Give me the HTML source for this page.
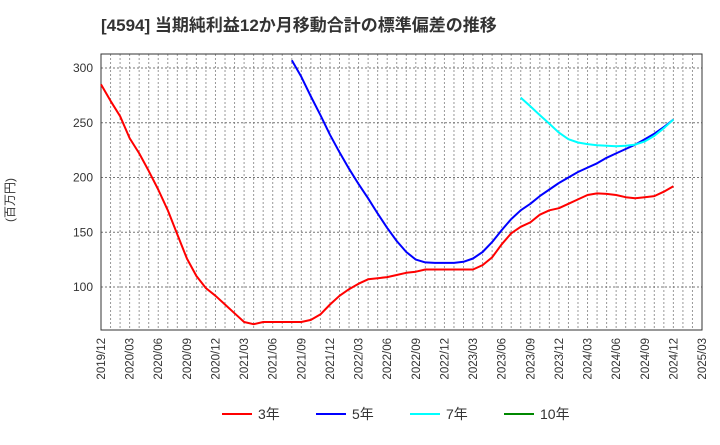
<!DOCTYPE html>
<html><head><meta charset="utf-8"><style>
body{margin:0;background:#fff;font-family:"Liberation Sans","Noto Sans CJK JP",sans-serif}
</style></head><body>
<svg id="c" width="720" height="440" xmlns="http://www.w3.org/2000/svg">
<text x="101" y="31" font-size="17" font-weight="bold" fill="#333">[4594]  当期純利益12か月移動合計の標準偏差の推移</text>
<text transform="translate(14,200) rotate(-90)" font-size="12" fill="#333" text-anchor="middle">(百万円)</text>
<g id="grid"></g><g id="axes"></g><g id="series"></g><g id="legend"></g>
</svg>
<script>
const xLabels=["2019/12","2020/03","2020/06","2020/09","2020/12","2021/03","2021/06","2021/09","2021/12","2022/03","2022/06","2022/09","2022/12","2023/03","2023/06","2023/09","2023/12","2024/03","2024/06","2024/09","2024/12","2025/03"];
const yTicks=[100,150,200,250,300];
const s3=[285,270,256,236,222,206,189,170,148,126,110,99,92,84,76,68,66,68,68,68,68,68,70,75,84,92,98,103,107,108,109,111,113,114,116,116,116,116,116,116,120,127,139,149,155,159,166,170,172,176,180,184,185.5,185,184,182,181,182,183,187,192];
const s5=[null,null,null,null,null,null,null,null,null,null,null,null,null,null,null,null,null,null,null,null,307,292,274,257,239,223,208,194,181,167,154,142,132,125,122.5,122,122,122,123,126,132,141,152,162,170,176,183,189,195,200,205,209,213,218,222,226,230,235,240,246,253];
const s7=[null,null,null,null,null,null,null,null,null,null,null,null,null,null,null,null,null,null,null,null,null,null,null,null,null,null,null,null,null,null,null,null,null,null,null,null,null,null,null,null,null,null,null,null,273,265,257,249,241,235,232,230.5,229.5,229,228.5,229,230,233,238,245,253];
const s10=[];
const L=101,R=702,T=54,B=330;
const X=i=>L+i*(R-L)/63;
const Y=v=>68+(300-v)*1.095;
const NS="http://www.w3.org/2000/svg";
function mk(p,t,a){const e=document.createElementNS(NS,t);for(const k in a)e.setAttribute(k,a[k]);document.getElementById(p).appendChild(e);return e;}
for(let m=1;m<63;m++){const l=mk('grid','line',{x1:X(m),x2:X(m),y1:T,y2:B,stroke:'#999','stroke-width':1,'stroke-dasharray':'2,2'});

}
yTicks.forEach(v=>{const l=mk('grid','line',{x1:L,x2:R,y1:Y(v),y2:Y(v),stroke:'#777','stroke-dasharray':'2,2'});


const t=mk('axes','text',{x:L-8,y:Y(v)+4,'font-size':12,fill:'#333','text-anchor':'end'});t.textContent=v;

});
const fr=mk('axes','rect',{x:L,y:T,width:R-L,height:B-T,fill:'none',stroke:'#333'});


xLabels.forEach((s,i)=>{const x=X(i*3);const t=mk('axes','text',{transform:`translate(${x+4},${B+8}) rotate(-90)`,'font-size':11.5,fill:'#333','text-anchor':'end'});t.textContent=s;

});
function line(d,c,n){let p='';d.forEach((v,i)=>{if(v==null)return;p+=(p?'L':'M')+X(i).toFixed(1)+','+Y(v).toFixed(1);});if(!p)return;
const e=mk('series','path',{d:p,fill:'none',stroke:c,'stroke-width':2,'stroke-linejoin':'round'});

}
line(s3,'#f00','series-3yr');line(s5,'#00f','series-5yr');line(s7,'#0ff','series-7yr');line(s10,'#080','series-10yr');
[['3年','#f00',222],['5年','#00f',316],['7年','#0ff',410],['10年','#080',504]].forEach(([n,c,x])=>{
const g=mk('legend','g',{});


const l=document.createElementNS(NS,'line');l.setAttribute('x1',x);l.setAttribute('x2',x+30);l.setAttribute('y1',414);l.setAttribute('y2',414);l.setAttribute('stroke',c);l.setAttribute('stroke-width',2);g.appendChild(l);
const t=document.createElementNS(NS,'text');t.setAttribute('x',x+36);t.setAttribute('y',419);t.setAttribute('font-size',14);t.setAttribute('fill','#333');t.textContent=n;g.appendChild(t);});
</script>
</body></html>
